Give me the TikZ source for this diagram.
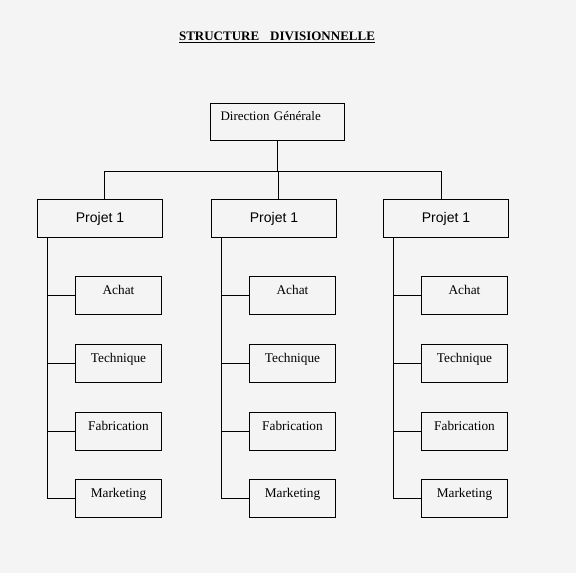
\documentclass[tikz,border=0pt]{standalone}
\usepackage{fontspec}
\setmainfont{Liberation Serif}
\newfontfamily\projfont{Liberation Sans}
\usepackage{tikz}
\usetikzlibrary{positioning}
\definecolor{PageGrey}{HTML}{F4F4F4}

\begin{document}
\begin{tikzpicture}[x=1pt,y=-1pt,line width=1pt,
  topbox/.style={draw,anchor=north west,inner ysep=0pt,inner xsep=10pt,text width=114pt,align=left,
    text height=17.3pt,text depth=19.7pt,font=\fontsize{13}{15}\selectfont},
  projbox/.style={draw,anchor=north west,minimum width=125pt,minimum height=38pt,font=\projfont\fontsize{14}{16}\selectfont},
  subbox/.style={draw,anchor=north west,inner sep=0pt,minimum width=86pt,text height=18.3pt,text depth=19.7pt,
    font=\fontsize{13.3}{15}\selectfont}]
  \fill[PageGrey] (0,0) rectangle (576,573);
  \useasboundingbox (0,0) rectangle (576,573);
  \node[font=\bfseries\fontsize{13}{15}\selectfont] (title) at (277,37) {\underline{STRUCTURE\hspace{11pt}DIVISIONNELLE}};
  \node[topbox] (dg) at (210,103) {Direction Générale};
  % the three divisions
  \foreach \c/\x/\j in {1/37/104,2/211/278,3/383/441}{
    \node[projbox] (p\c) at (\x,199) {Projet 1};
    \coordinate (j\c) at (\j,171);
    \draw (j\c) -- (j\c |- p\c.north);
    \coordinate (t\c) at (\x+10,237);
    \foreach \s/\lab/\y in {1/Achat/276,2/Technique/344,3/Fabrication/412,4/Marketing/479}{
      \node[subbox] (s\c\s) at (\x+38,\y) {\lab};
      \draw (s\c\s.west) -- (s\c\s.west -| t\c);
    }
    \draw (t\c) -- (t\c |- s\c4.west);
  }
  \draw (dg.south) -- (dg.south |- j1);
  \draw (j1) -- (j3);
\end{tikzpicture}
\end{document}
